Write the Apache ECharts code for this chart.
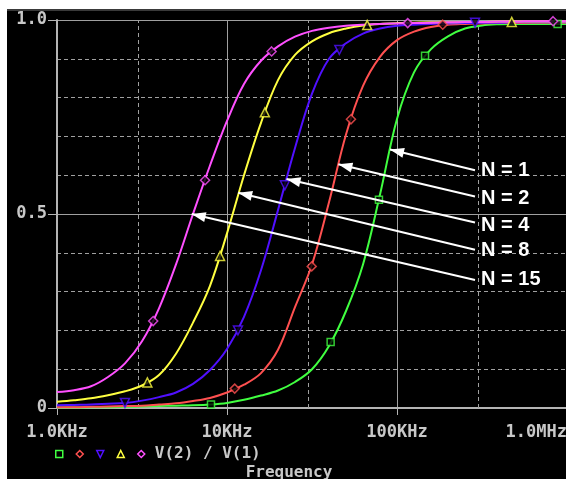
<!DOCTYPE html>
<html><head><meta charset="utf-8">
<script src="https://cdn.jsdelivr.net/npm/echarts@6/dist/echarts.min.js"></script>
<style>html,body{margin:0;padding:0;background:#fff;overflow:hidden}#c{width:566px;height:479px}</style>
</head><body><div id="c"></div>
<script>
// ---- axis ticks ----
const xTickValues = [1000, 10000, 100000, 1000000];
const xTickLabels = ['1.0KHz', '10KHz', '100KHz', '1.0MHz'];
const xMinorGrid = [3000, 30000, 300000];
const yTickValues = [0, 0.5, 1];
const yTickLabels = ['0', '0.5', '1.0'];

// ---- sampling frequencies (Hz), 0.1 decade apart ----
const freqs = [1000, 1259, 1585, 1995, 2512, 3162, 3981, 5012, 6310, 7943,
  10000, 12589, 15849, 19953, 25119, 31623, 39811, 50119, 63096, 79433,
  100000, 125893, 158489, 199526, 251189, 316228, 398107, 501187, 630957, 794328, 1000000];

// ---- V(2)/V(1) read at those frequencies ----
const names = ['N = 1', 'N = 2', 'N = 4', 'N = 8', 'N = 15'];
const n1Val = [0.001, 0.001, 0.002, 0.002, 0.003, 0.004, 0.005, 0.006, 0.007, 0.009,
  0.013, 0.021, 0.032, 0.045, 0.067, 0.10, 0.16, 0.25, 0.37, 0.55,
  0.745, 0.865, 0.925, 0.958, 0.978, 0.986, 0.989, 0.99, 0.99, 0.99, 0.99];
const n2Val = [0.002, 0.002, 0.003, 0.004, 0.005, 0.006, 0.009, 0.012, 0.018, 0.026,
  0.04, 0.06, 0.09, 0.15, 0.26, 0.37, 0.53, 0.705, 0.83, 0.905,
  0.948, 0.97, 0.982, 0.988, 0.99, 0.991, 0.992, 0.992, 0.993, 0.993, 0.993];
const n4Val = [0.007, 0.008, 0.009, 0.011, 0.013, 0.019, 0.028, 0.04, 0.062, 0.098,
  0.152, 0.235, 0.355, 0.51, 0.67, 0.81, 0.90, 0.94, 0.965, 0.978,
  0.985, 0.988, 0.99, 0.991, 0.992, 0.993, 0.993, 0.994, 0.994, 0.994, 0.994];
const n8Val = [0.016, 0.02, 0.025, 0.033, 0.043, 0.058, 0.085, 0.14, 0.22, 0.315,
  0.45, 0.60, 0.735, 0.845, 0.91, 0.945, 0.966, 0.978, 0.986, 0.99,
  0.992, 0.993, 0.994, 0.994, 0.995, 0.995, 0.996, 0.996, 0.996, 0.996, 0.996];
const n15Val = [0.041, 0.046, 0.056, 0.08, 0.115, 0.172, 0.257, 0.37, 0.50, 0.625,
  0.74, 0.835, 0.895, 0.932, 0.957, 0.972, 0.98, 0.985, 0.988, 0.99,
  0.991, 0.992, 0.993, 0.994, 0.995, 0.995, 0.996, 0.996, 0.997, 0.997, 0.997];

// ---- marker positions [freq, value] ----
const n1Marks = [[8050, 0.009], [40700, 0.17], [78300, 0.537], [146200, 0.908], [881000, 0.99]];
const n2Marks = [[11100, 0.05], [31500, 0.365], [53600, 0.744], [185800, 0.988]];
const n4Marks = [[2510, 0.013], [11600, 0.2], [21900, 0.574], [45800, 0.923], [287700, 0.993]];
const n8Marks = [[3400, 0.066], [9100, 0.392], [16700, 0.762], [66800, 0.987], [473000, 0.995]];
const n15Marks = [[3680, 0.224], [7430, 0.587], [18300, 0.919], [115600, 0.992], [828000, 0.997]];

// ---- annotation arrows: tip on curve, start near label ----
const arrowTips = [[91000, 0.666], [45200, 0.628], [22400, 0.59], [11640, 0.555], [6200, 0.50]];
const annotFreq = 287700;
const arrowStartVal = [0.613, 0.545, 0.478, 0.408, 0.330];
const labelVal = [0.612, 0.540, 0.470, 0.406, 0.331];

const colors = ['#40ff40', '#ff5050', '#5010ff', '#ffff40', '#ff50ff'];
const shapes = ['rect', 'diamond', 'triangle', 'triangle', 'diamond'];
const rotates = [0, 0, 180, 0, 0];
const sizes = [7, 9, 9, 9, 9];
const legendIcons = ['rect', 'diamond', 'path://M0,0L10,0L5,10Z', 'triangle', 'diamond'];

const vals = [n1Val, n2Val, n4Val, n8Val, n15Val];
const marks = [n1Marks, n2Marks, n4Marks, n8Marks, n15Marks];

const axisGray = '#b4b4b4';
const gridGray = '#a0a0a0';
const textGray = '#c8c8c8';
const monoFont = 'DejaVu Sans Mono';

const series = [{
  name: 'minorGrid', type: 'line', data: [],
  markLine: {
    silent: true, animation: false, z: 1,
    symbol: ['none', 'none'],
    label: { show: false },
    lineStyle: { color: gridGray, width: 1, type: [4, 3] },
    data: xMinorGrid.map(x => ({ xAxis: x }))
  }
}];

vals.forEach((v, i) => {
  series.push({
    name: names[i],
    type: 'line',
    data: freqs.map((f, k) => [f, v[k]]),
    showSymbol: false,
    symbol: shapes[i],
    smooth: 0.35,
    lineStyle: { color: colors[i], width: 2 },
    itemStyle: { color: colors[i] },
    emphasis: { disabled: true },
    z: 2,
    markLine: {
      silent: true, animation: false, z: 6,
      lineStyle: { color: '#fff', width: 2, type: 'solid' },
      label: { show: false },
      data: [[
        { coord: [annotFreq, arrowStartVal[i]], symbol: 'none' },
        { coord: arrowTips[i], symbol: 'triangle', symbolSize: [10, 14], symbolOffset: [0, 7] }
      ]]
    },
    markPoint: {
      silent: true, animation: false, z: 6,
      symbol: 'circle', symbolSize: 0,
      label: {
        show: true, position: 'right', distance: 6,
        formatter: names[i], color: '#fff',
        fontFamily: 'Liberation Sans', fontWeight: 'bold', fontSize: 20
      },
      data: [{ coord: [annotFreq, labelVal[i]] }]
    }
  });
});

marks.forEach((m, i) => {
  series.push({
    name: names[i] + ' markers',
    type: 'scatter',
    data: m,
    symbol: shapes[i],
    symbolSize: sizes[i],
    symbolRotate: rotates[i],
    itemStyle: { color: '#000', borderColor: colors[i], borderWidth: 1.5 },
    emphasis: { disabled: true },
    z: 3,
    silent: true
  });
});

const chart = echarts.init(document.getElementById('c'), null, { renderer: 'canvas' });
chart.setOption({
  animation: false,
  backgroundColor: '#fff',
  graphic: [
    { type: 'rect', z: -10, shape: { x: 7, y: 9, width: 559, height: 470 }, style: { fill: '#000' } },
    { type: 'rect', z: -9, shape: { x: 7, y: 9, width: 559, height: 2 }, style: { fill: '#3a3a3a' } },
    { type: 'text', z: 5, x: 289, y: 473, style: { text: 'Frequency', align: 'center', verticalAlign: 'middle', fill: textGray, font: 'bold 16px "DejaVu Sans Mono"' } }
  ],
  grid: { left: 57, top: 20, width: 510, height: 388, outerBoundsMode: 'none', containLabel: false },
  legend: {
    left: 55, top: 446, padding: 0, itemWidth: 7, itemHeight: 7, itemGap: 12,
    selectedMode: false,
    textStyle: { color: textGray, fontFamily: monoFont, fontSize: 16, fontWeight: 'bold', padding: [0, 0, 0, 5] },
    formatter: n => n === names[4] ? 'V(2) / V(1)' : '',
    data: names.map((n, i) => ({ name: n, icon: legendIcons[i], itemStyle: { color: '#000', borderColor: colors[i], borderWidth: 1.5 } }))
  },
  xAxis: {
    type: 'log', logBase: 10, min: xTickValues[0], max: xTickValues[xTickValues.length - 1],
    axisLine: { show: true, lineStyle: { color: axisGray, width: 2 } },
    axisTick: { show: true, length: 7, lineStyle: { color: axisGray, width: 1 } },
    splitLine: { show: true, lineStyle: { color: gridGray, width: 1, type: 'solid' } },
    minorTick: { show: false }, minorSplitLine: { show: false },
    axisLabel: {
      show: true, margin: 16, color: textGray, fontFamily: monoFont, fontSize: 17, fontWeight: 'bold',
      showMinLabel: true, showMaxLabel: true, alignMaxLabel: 'right', hideOverlap: false,
      formatter: v => { const k = xTickValues.findIndex(t => Math.abs(Math.log10(t) - Math.log10(v)) < 1e-6); return k >= 0 ? xTickLabels[k] : ''; }
    }
  },
  yAxis: [{
    type: 'value', min: 0, max: 1, interval: 0.5,
    axisLine: { show: true, lineStyle: { color: axisGray, width: 2 } },
    axisTick: { show: true, length: 9, lineStyle: { color: axisGray, width: 1 } },
    splitLine: { show: true, lineStyle: { color: gridGray, width: 1, type: 'solid' } },
    axisLabel: {
      show: true, margin: 10, color: textGray, fontFamily: monoFont, fontSize: 17, fontWeight: 'bold',
      showMinLabel: true, showMaxLabel: true,
      formatter: v => { const k = yTickValues.findIndex(t => Math.abs(t - v) < 1e-9); return k >= 0 ? yTickLabels[k] : ''; }
    }
  }, {
    type: 'value', min: 0, max: 1, interval: 0.1, position: 'left',
    axisLine: { show: false }, axisTick: { show: false }, axisLabel: { show: false },
    splitLine: { show: true, lineStyle: { color: gridGray, width: 1, type: [4, 3] } }
  }],
  series: series
});
</script>
</body></html>
